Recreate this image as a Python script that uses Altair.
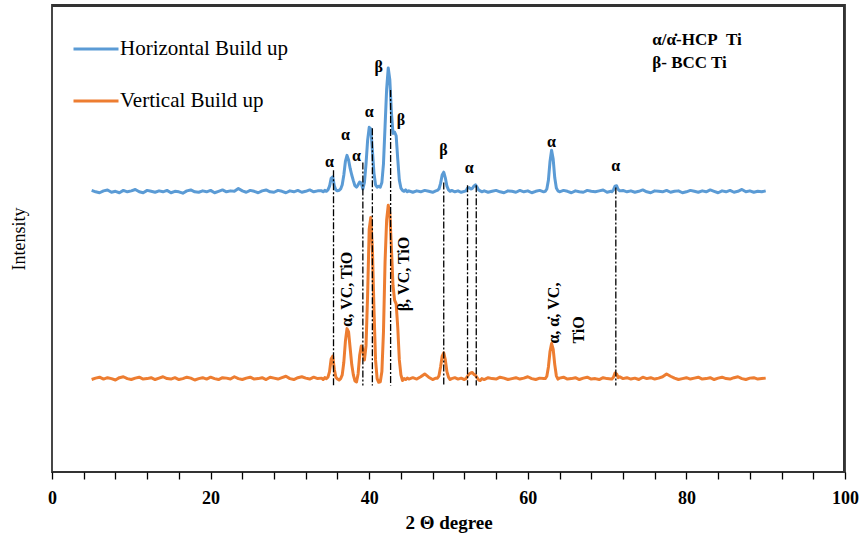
import altair as alt
import pandas as pd

# ---------------- data ----------------
series_names = ["Horizontal Build up", "Vertical Build up"]
series_colors = ["#5B9BD5", "#ED7D31"]

# 2-theta sampling (segments) and intensities (arbitrary units, vertical series offset below)
tt_a = [5.0, 5.5, 6.0, 6.5, 7.0, 7.5, 8.0, 8.5, 9.0, 9.5,
        10.0, 10.5, 11.0, 11.5, 12.0, 12.5, 13.0, 13.5, 14.0, 14.5,
        15.0, 15.5, 16.0, 16.5, 17.0, 17.5, 18.0, 18.5, 19.0, 19.5,
        20.0, 20.5, 21.0, 21.5, 22.0, 22.5, 23.0, 23.5, 24.0, 24.5,
        25.0, 25.5, 26.0, 26.5, 27.0, 27.5, 28.0, 28.5, 29.0, 29.5,
        30.0, 30.5, 31.0, 31.5, 32.0, 32.5, 33.0, 33.5]
hz_a = [60.3, 60.0, 59.8, 60.2, 60.4, 59.9, 60.1, 59.8, 60.3, 60.0,
        60.2, 60.5, 60.0, 59.8, 60.3, 60.1, 59.9, 60.2, 60.0, 60.3,
        59.8, 60.1, 60.0, 59.7, 60.2, 60.4, 60.0, 59.9, 60.2, 60.0,
        60.3, 59.8, 60.1, 60.4, 60.0, 60.2, 60.1, 60.7, 60.2, 59.9,
        60.3, 60.1, 59.8, 60.2, 60.4, 60.0, 59.9, 60.3, 60.1, 59.8,
        60.2, 60.0, 60.3, 59.9, 60.1, 60.4, 60.0, 60.2]
vt_a = [19.8, 20.1, 20.3, 19.9, 20.2, 20.0, 19.7, 20.2, 20.4, 20.0,
        19.8, 20.1, 20.3, 19.9, 20.0, 20.2, 19.8, 20.1, 20.4, 20.0,
        19.9, 20.2, 19.8, 20.0, 20.3, 20.1, 19.7, 20.0, 20.2, 19.9,
        20.3, 20.0, 19.8, 20.2, 20.1, 19.9, 20.4, 20.0, 19.8, 20.1,
        20.3, 19.9, 20.0, 20.2, 19.8, 20.3, 20.1, 19.9, 20.2, 20.5,
        20.0, 19.8, 20.2, 20.4, 20.1, 19.9, 20.3, 20.0]

tt_b = [34.0, 34.2, 34.4, 34.6, 34.8, 35.0, 35.2, 35.4, 35.6, 35.8,
        36.0, 36.2, 36.4, 36.6, 36.8, 37.0, 37.2, 37.4, 37.6, 37.8,
        38.0, 38.2, 38.4, 38.6, 38.8, 39.0, 39.2, 39.4, 39.6, 39.8,
        40.0, 40.2, 40.4, 40.6, 40.8, 41.0, 41.2, 41.4, 41.6, 41.8,
        42.0, 42.2, 42.4, 42.6, 42.8, 43.0, 43.2, 43.4, 43.6, 43.8,
        44.0, 44.2, 44.4, 44.6, 44.8, 45.0]
hz_b = [60.2, 60.0, 60.3, 60.1, 60.4, 61.2, 62.9, 63.2, 61.3, 60.4,
        60.2, 60.3, 60.6, 61.5, 63.6, 66.5, 67.8, 66.8, 65.0, 63.6,
        62.4, 61.3, 61.0, 61.5, 62.1, 61.9, 60.6, 62.0, 66.0, 71.0,
        73.8, 73.5, 69.0, 64.0, 61.5, 61.0, 61.2, 61.0, 62.0, 66.0,
        74.0, 82.0, 86.5, 84.0, 77.0, 72.5, 72.8, 72.0, 67.0, 62.5,
        60.8, 60.3, 60.1, 60.4, 60.0, 60.2]
vt_b = [20.1, 19.8, 20.2, 20.0, 20.3, 21.5, 24.2, 24.8, 22.0, 20.3,
        19.9, 19.7, 20.0, 20.8, 23.5, 28.0, 30.7, 30.0, 26.5, 23.0,
        20.8, 19.5, 19.3, 21.0, 25.0, 27.0, 26.2, 24.0, 27.0, 38.0,
        52.0, 54.5, 48.0, 35.0, 24.0, 20.0, 19.2, 19.3, 21.5, 30.0,
        45.0, 54.0, 57.1, 55.5, 48.0, 40.0, 36.8, 36.0, 31.0, 24.0,
        20.8, 19.6, 20.0, 19.8, 20.1, 19.9]

tt_c = [45.5, 46.0, 46.5, 47.0, 47.5, 48.0, 48.4]
hz_c = [59.9, 60.2, 60.0, 60.3, 60.1, 59.9, 60.2]
vt_c = [20.2, 19.9, 20.4, 21.0, 20.3, 19.8, 20.1]

tt_d = [48.6, 48.8, 49.0, 49.2, 49.4, 49.6, 49.8, 50.0, 50.2, 50.4]
hz_d = [60.3, 60.6, 61.8, 63.6, 64.2, 63.0, 61.2, 60.4, 60.1, 60.3]
vt_d = [20.1, 20.6, 22.5, 24.8, 25.5, 24.0, 21.5, 20.3, 19.8, 20.0]

tt_e = [50.8, 51.2, 51.6, 52.0]
hz_e = [60.0, 60.2, 59.9, 60.1]
vt_e = [20.2, 19.9, 20.1, 19.8]

tt_f = [52.2, 52.4, 52.6, 52.8, 53.0, 53.2, 53.4, 53.6, 53.8, 54.0, 54.2]
hz_f = [60.2, 60.8, 60.9, 60.6, 60.7, 61.2, 61.5, 61.0, 60.4, 60.2, 60.0]
vt_f = [20.0, 20.5, 21.0, 21.2, 21.3, 20.9, 20.7, 20.2, 19.7, 19.6, 20.0]

tt_g = [54.5, 55.0, 55.5, 56.0, 56.5, 57.0, 57.5, 58.0, 58.5, 59.0,
        59.5, 60.0, 60.5, 61.0, 61.5, 62.0]
hz_g = [60.2, 59.9, 60.1, 60.3, 60.0, 59.8, 60.2, 60.1, 59.9, 60.3,
        60.0, 60.2, 59.8, 60.1, 60.3, 60.0]
vt_g = [19.8, 20.2, 20.0, 19.9, 20.3, 20.1, 19.8, 20.0, 20.2, 19.9,
        20.1, 20.4, 20.0, 19.8, 20.1, 20.0]

tt_h = [62.2, 62.4, 62.6, 62.8, 63.0, 63.2, 63.4, 63.6, 63.8]
hz_h = [60.1, 60.6, 62.5, 66.5, 68.9, 67.0, 63.0, 60.8, 60.2]
vt_h = [20.0, 20.5, 22.5, 25.8, 27.5, 26.3, 23.0, 20.6, 19.9]

tt_i = [64.0, 64.5, 65.0, 65.5, 66.0, 66.5, 67.0, 67.5, 68.0, 68.5,
        69.0, 69.5, 70.0, 70.5]
hz_i = [60.0, 60.3, 60.1, 59.8, 60.2, 60.0, 59.9, 60.3, 60.1, 60.0,
        60.2, 60.4, 59.9, 60.1]
vt_i = [20.1, 20.3, 19.9, 20.0, 20.2, 19.8, 20.1, 20.3, 19.9, 20.0,
        19.8, 20.2, 20.0, 19.9]

tt_j = [70.6, 70.8, 71.0, 71.2, 71.4, 71.6]
hz_j = [60.0, 60.4, 61.2, 61.3, 60.5, 60.2]
vt_j = [19.9, 20.3, 21.2, 21.0, 20.2, 20.4]

tt_k = [72.0, 72.5, 73.0, 73.5, 74.0, 74.5, 75.0, 75.5, 76.0, 76.5,
        77.0, 77.5, 78.0, 78.5, 79.0, 79.5, 80.0, 80.5, 81.0, 81.5,
        82.0, 82.5, 83.0, 83.5, 84.0, 84.5, 85.0, 85.5, 86.0, 86.5,
        87.0, 87.5, 88.0, 88.5, 89.0, 89.5, 90.0]
hz_k = [60.3, 60.0, 60.2, 59.9, 60.1, 60.4, 60.0, 59.8, 60.2, 60.1,
        60.0, 60.3, 59.9, 60.1, 60.2, 59.8, 60.0, 60.3, 60.1, 59.9,
        60.2, 60.0, 60.4, 60.1, 59.8, 60.2, 60.0, 60.3, 59.9, 60.1,
        60.5, 60.0, 60.2, 59.9, 60.1, 60.0, 60.2]
vt_k = [20.0, 20.2, 19.9, 20.1, 19.8, 20.3, 20.0, 20.2, 19.9, 20.1,
        20.4, 21.0, 20.5, 20.1, 19.8, 20.0, 20.2, 19.9, 20.1, 20.3,
        19.9, 20.0, 20.2, 19.8, 20.1, 20.3, 20.0, 19.9, 20.2, 20.4,
        20.0, 19.8, 20.1, 20.2, 19.9, 20.0, 20.1]

# dash-dot reference lines (peak positions), top and bottom in intensity units
ref_pos = [35.5, 39.2, 40.4, 42.7, 49.4, 52.4, 53.5, 71.1]
ref_top = [64.6, 66.3, 73.6, 81.8, 62.0, 61.4, 61.4, 60.9]
ref_bottom = [18.5, 18.5, 18.5, 18.5, 18.5, 18.5, 18.5, 18.5]

# phase labels above the horizontal pattern
phase_x = [35.0, 37.0, 38.4, 40.0, 41.2, 44.0, 49.35, 52.6, 63.0, 71.1]
phase_y = [66.4, 72.1, 67.6, 77.0, 86.8, 75.3, 68.9, 65.2, 70.7, 65.5]
phase_text = ["α", "α", "α", "α", "β", "β", "β", "α", "α", "α"]

# rotated labels on the vertical pattern (anchored at text start)
rot_x = [37.2, 44.4, 63.3, 66.4]
rot_y = [31.1, 34.4, 27.5, 27.5]
rot_text = ["α, VC, TiO", "β, VC, TiO", "α, α̇, VC,", "TiO"]

# key at top right
key_x = [75.7, 75.7]
key_y = [92.4, 87.6]
key_text = ["α/α̇-HCP\u00a0\u00a0Ti", "β- BCC Ti"]

x_ticks = [0, 4, 8, 12, 16, 20, 24, 28, 32, 36, 40, 44, 48, 52, 56, 60,
           64, 68, 72, 76, 80, 84, 88, 92, 96, 100]

# ---------------- build tables ----------------
two_theta = tt_a + tt_b + tt_c + tt_d + tt_e + tt_f + tt_g + tt_h + tt_i + tt_j + tt_k
horizontal = hz_a + hz_b + hz_c + hz_d + hz_e + hz_f + hz_g + hz_h + hz_i + hz_j + hz_k
vertical = vt_a + vt_b + vt_c + vt_d + vt_e + vt_f + vt_g + vt_h + vt_i + vt_j + vt_k

rows = []
for t, h, v in zip(two_theta, horizontal, vertical):
    rows.append({"two_theta": t, "intensity": h, "series": series_names[0]})
    rows.append({"two_theta": t, "intensity": v, "series": series_names[1]})
df = pd.DataFrame(rows)

ref_df = pd.DataFrame({"pos": ref_pos, "top": ref_top, "bottom": ref_bottom})
phase_df = pd.DataFrame({"x": phase_x, "y": phase_y, "t": phase_text})
rot_df = pd.DataFrame({"x": rot_x, "y": rot_y, "t": rot_text})
key_df = pd.DataFrame({"x": key_x, "y": key_y, "t": key_text})

W, H = 793, 467
FONT = "Liberation Serif"
xscale = alt.Scale(domain=[0, 100], nice=False, zero=False)
yscale = alt.Scale(domain=[0, 100], nice=False)

x_axis = alt.Axis(
    title="2 Θ degree", values=x_ticks,
    labelExpr="datum.value % 20 === 0 ? datum.label : ''",
    labelOverlap=False,
    labelFont=FONT, labelFontSize=18, labelFontWeight="bold", labelColor="black",
    labelPadding=10, labelFlush=False,
    titleFont=FONT, titleFontSize=19, titleFontWeight="bold", titleColor="black",
    titlePadding=6,
    ticks=True, tickSize=7, tickColor="black", tickWidth=1.3,
    domain=False, grid=False,
)
y_axis = alt.Axis(
    title="Intensity", labels=False, ticks=False, domain=False, grid=False,
    titleFont=FONT, titleFontSize=18, titleFontWeight="normal", titleColor="black",
    titlePadding=24,
)


def xenc(field):
    return alt.X(field, type="quantitative", scale=xscale, axis=x_axis, title="2 Θ degree")


def yenc(field):
    return alt.Y(field, type="quantitative", scale=yscale, axis=y_axis, title="Intensity")


lines = alt.Chart(df).mark_line(strokeWidth=3, strokeJoin="round").encode(
    x=xenc("two_theta"),
    y=yenc("intensity"),
    color=alt.Color(
        "series:N",
        scale=alt.Scale(domain=series_names, range=series_colors),
        legend=alt.Legend(
            title=None, orient="none", legendX=20, legendY=20,
            symbolType="stroke", symbolSize=2025, symbolStrokeWidth=3,
            labelFont=FONT, labelFontSize=21, labelColor="black",
            labelOffset=0, rowPadding=18, padding=0, labelLimit=400,
        ),
    ),
)

rules = alt.Chart(ref_df).mark_rule(
    color="black", strokeWidth=1.3, strokeDash=[7, 2, 2, 2]
).encode(
    x=xenc("pos"),
    y=yenc("top"),
    y2="bottom:Q",
)

phase = alt.Chart(phase_df).mark_text(
    font=FONT, fontSize=16, fontWeight="bold", color="black",
    align="center", baseline="middle",
).encode(x=xenc("x"), y=yenc("y"), text="t:N")

rot = alt.Chart(rot_df).mark_text(
    font=FONT, fontSize=16, fontWeight="bold", color="black",
    angle=270, align="left", baseline="middle",
).encode(x=xenc("x"), y=yenc("y"), text="t:N")

key = alt.Chart(key_df).mark_text(
    font=FONT, fontSize=17, fontWeight="bold", color="black",
    align="left", baseline="middle",
).encode(x=xenc("x"), y=yenc("y"), text="t:N")

# plot frame, drawn in pixel space of the plot area (top and right edges)
frame_top = alt.Chart(key_df.head(1)).mark_rule(
    color="#333333", strokeWidth=2
).encode(x=alt.value(0), x2=alt.value(W), y=alt.value(1))
frame_right = alt.Chart(key_df.head(1)).mark_rule(
    color="#333333", strokeWidth=2
).encode(x=alt.value(W - 1), y=alt.value(0), y2=alt.value(H))

chart = alt.layer(lines, rules, phase, rot, key, frame_top, frame_right).properties(
    width=W, height=H,
    padding={"left": 52, "top": 5, "right": 22, "bottom": 68},
    autosize=alt.AutoSizeParams(type="none"),
    background="white",
).configure_view(
    stroke="#333333", strokeWidth=1.8
)

chart.save("out.html", embed_options={"renderer": "svg", "actions": False})
